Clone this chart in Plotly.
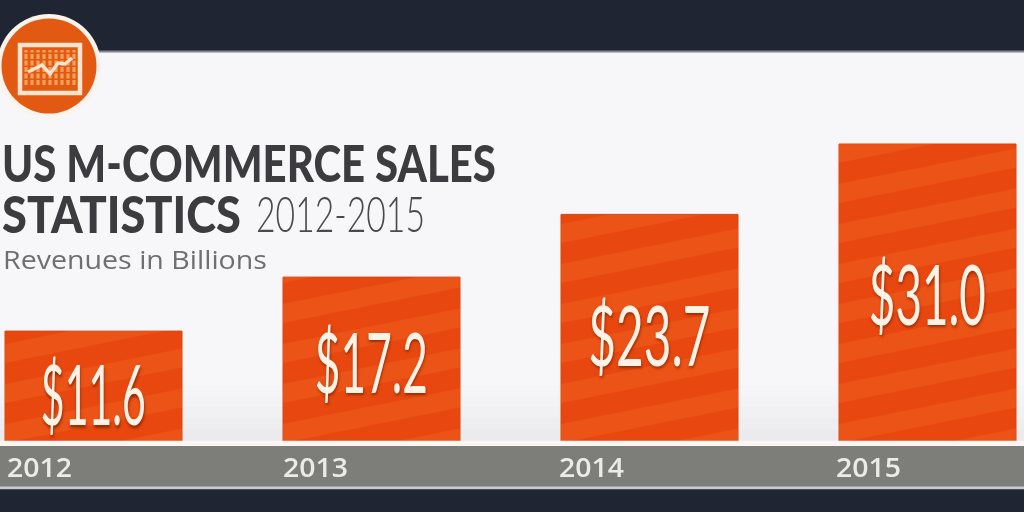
import json
import plotly.graph_objects as go

years = ["2012", "2013", "2014", "2015"]
revenues = [11.6, 17.2, 23.7, 31.0]
value_labels = ["$11.6", "$17.2", "$23.7", "$31.0"]
label_heights = [0.454, 0.5, 0.48, 0.505]
title_line1 = "US M-COMMERCE SALES"
title_line2 = "STATISTICS"
title_years = "2012-2015"
subtitle = "Revenues in Billions"

W, H = 1024, 512
TOP, BASE = 52, 442.8
PX_PER_UNIT = 9.64
PX_PER_CAT = 278.0
CENTER0 = 93.5
BAR_W = 177 / PX_PER_CAT
DARK, PANEL, BAND = "#1f2533", "#f7f7f9", "#7d7d79"
ORANGE, STRIPE, CIRCLE, CREAM = "#e8480f", "#f2621f", "#e25a12", "#fbe3cf"


def px(x):
    return x / W


def py(y):
    return (BASE - y) / (BASE - TOP)


def rect(x0, y0, x1, y1, color, layer="below"):
    return dict(type="rect", xref="paper", yref="paper", x0=px(x0), x1=px(x1), y0=py(y0), y1=py(y1),
                fillcolor=color, line_width=0, layer=layer)


def clip(poly, ymax):
    out = []
    for i, (x0, y0) in enumerate(poly):
        x1, y1 = poly[(i + 1) % len(poly)]
        if y0 <= ymax:
            out.append((x0, y0))
        if (y0 <= ymax) != (y1 <= ymax):
            t = (ymax - y0) / (y1 - y0)
            out.append((x0 + t * (x1 - x0), ymax))
    return out


def clip_low(poly):
    flipped = clip([(x, -y) for x, y in poly], 0)
    return [(x, -y) for x, y in flipped]


shapes = [
    rect(0, 52, W, 446, PANEL),
    rect(0, 50.5, W, 52.5, "#83868d"),
]
for i, c in enumerate(["#f5f5f7", "#f3f3f5", "#f1f1f3", "#eeeef0", "#ebebed"]):
    shapes.append(rect(0, 385 + i * 11, W, 441, c))

SLOPE = 0.2 * PX_PER_CAT / PX_PER_UNIT
PITCH, THICK = 40 / PX_PER_UNIT, 19 / PX_PER_UNIT
for i, v in enumerate(revenues):
    xa, xb = i - BAR_W / 2, i + BAR_W / 2
    s = -3 * PITCH
    while s < v + 3 * PITCH:
        poly = [(xa, s), (xb, s + SLOPE * BAR_W), (xb, s + SLOPE * BAR_W + THICK), (xa, s + THICK)]
        poly = clip_low(clip(poly, v))
        if len(poly) >= 3:
            path = "M" + "L".join(f"{x:.4f},{y:.4f}" for x, y in poly) + "Z"
            shapes.append(dict(type="path", xref="x", yref="y", path=path, fillcolor=STRIPE,
                               opacity=0.45, line_width=0, layer="above"))
        s += PITCH

shapes += [
    rect(0, 440.5, W, 446, "#fbf6f2", "above"),
    rect(0, 446, W, 486, BAND, "above"),
    rect(0, 486, W, 489, "#c9cacb", "above"),
]

# badge
cx, cy = 49, 66
R = 52
shapes.append(dict(type="circle", xref="paper", yref="paper", x0=px(cx - R), x1=px(cx + R), y0=py(cy + R), y1=py(cy - R),
                   fillcolor="#fbf3ec", line_width=0, layer="above"))
R = 47.5
shapes.append(dict(type="circle", xref="paper", yref="paper", x0=px(cx - R), x1=px(cx + R), y0=py(cy + R), y1=py(cy - R),
                   fillcolor=CIRCLE, line_width=0, layer="above"))
for tx in range(26, 75, 6):
    shapes.append(dict(type="line", xref="paper", yref="paper", x0=px(tx), x1=px(tx), y0=py(85), y1=py(50),
                       line=dict(color="#f7a05a", width=3.2, dash="5px,1.5px"), layer="above"))
shapes.append(dict(type="rect", xref="paper", yref="paper", x0=px(20), x1=px(80), y0=py(93), y1=py(45),
                   fillcolor="rgba(0,0,0,0)", line=dict(color=CREAM, width=4.5), layer="above"))
zig = [(28, 72), (42, 65), (50, 74), (58, 63), (65, 64), (72, 58)]
shapes.append(dict(type="path", xref="paper", yref="paper",
                   path="M" + "L".join(f"{px(x):.5f},{py(y):.5f}" for x, y in zig),
                   line=dict(color=CREAM, width=3.5), fillcolor="rgba(0,0,0,0)", layer="above"))

anns = []
widths = {}
for i, (lab, v, f, wt) in enumerate(zip(value_labels, revenues, label_heights, [105, 113, 122, 117])):
    anns.append(dict(x=i, y=v * f, xref="x", yref="y", text=lab, showarrow=False, xanchor="center", yanchor="middle",
                     font=dict(family="Lato", size=84, color="#fdf2e6", weight=400,
                               shadow="1px 2px 3px rgba(120,30,0,0.7)")))
    widths[lab] = [wt, "center"]
tick_px = [7, 283, 559, 836]
for y, xp in zip(years, tick_px):
    anns.append(dict(x=px(xp), y=py(466), xref="paper", yref="paper", text=y, showarrow=False, xanchor="left",
                     yanchor="middle", xshift=-2, font=dict(family="Open Sans", size=27, color="#ebebe8", weight=600)))
    widths[y] = [65, "left center"]


def note(x, y, text, family, size, color, weight, target):
    anns.append(dict(x=px(x), y=py(y), xref="paper", yref="paper", text=text, showarrow=False, xanchor="left",
                     yanchor="middle", xshift=-2,
                     font=dict(family=family, size=size, color=color, weight=weight)))
    widths[text] = [target, "left center"]


note(2, 162, title_line1, "Lato", 52, "#3c3c40", 900, 494)
note(2, 213, title_line2, "Lato", 52, "#3c3c40", 900, 239)
note(256, 213, title_years, "Lato", 49, "#4a4a4e", 300, 169)
note(3, 259, subtitle, "Open Sans", 25, "#6f6f72", 400, 264)

fig = go.Figure(go.Bar(x=list(range(len(years))), y=revenues, width=BAR_W, marker=dict(color=ORANGE, line=dict(color="#d8450f", width=1)),
                       hoverinfo="skip"))
fig.update_layout(
    width=W, height=H, autosize=False,
    margin=dict(l=0, r=0, t=TOP, b=H - BASE, pad=0),
    paper_bgcolor=DARK, plot_bgcolor=PANEL,
    showlegend=False,
    shapes=shapes, annotations=anns,
    xaxis=dict(range=[-CENTER0 / PX_PER_CAT, (W - CENTER0) / PX_PER_CAT], visible=False, fixedrange=True),
    yaxis=dict(range=[0, (BASE - TOP) / PX_PER_UNIT], visible=False, fixedrange=True),
)
post = """
document.body.style.margin='0';
var targets=%s;
function fit(){
document.querySelectorAll('.annotation-text').forEach(function(t){
  var s=t.textContent, m=targets[s];
  if(!m) return;
  t.style.transform='none';
  var k=m[0]/t.getBBox().width;
  t.style.transformBox='fill-box';t.style.transformOrigin=m[1];t.style.transform='scaleX('+k+')';
});}
document.fonts.ready.then(fit);
fit();
document.querySelectorAll('.main-svg').forEach(function(e){e.style.filter='blur(0.5px)';});
""" % json.dumps(widths)
fig.write_html("out.html", post_script=post, config={"displayModeBar": False})
